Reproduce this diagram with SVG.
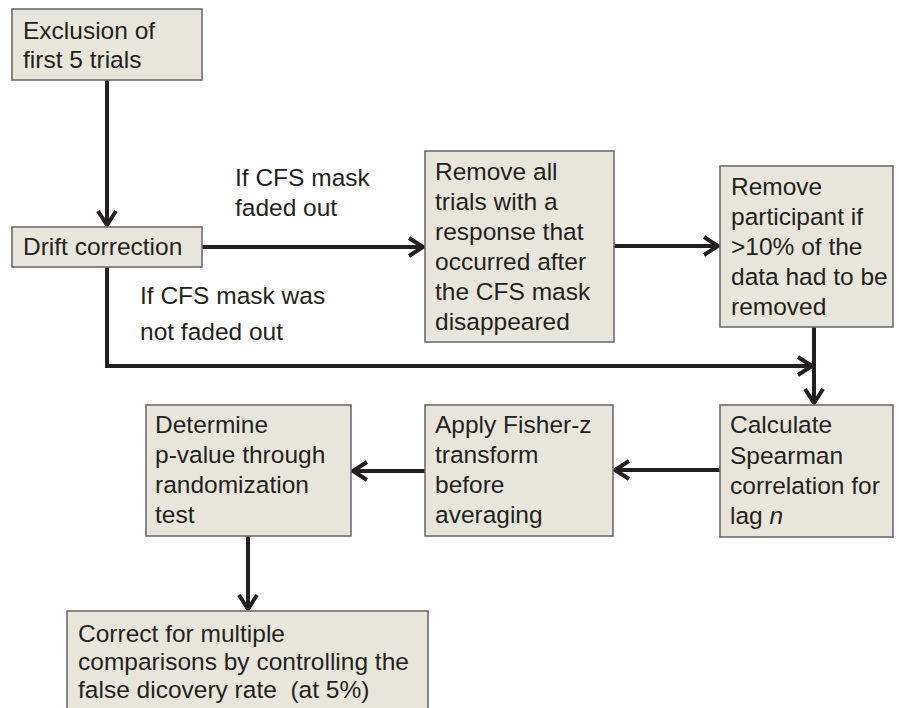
<svg xmlns="http://www.w3.org/2000/svg" width="899" height="708" viewBox="0 0 899 708">
<style>
.box{fill:#e8e6da;stroke:#6d6d6d;stroke-width:1.6}
text{font-family:"Liberation Sans",Arial,sans-serif;font-size:24.5px;fill:#231f20}
.ln{fill:none;stroke:#231f20;stroke-width:4}
</style>
<defs>
<marker id="ah" markerUnits="userSpaceOnUse" markerWidth="22" markerHeight="22" viewBox="0 0 22 22" refX="18" refY="11" orient="auto">
<path d="M4,2 L18,11 L4,20" fill="none" stroke="#231f20" stroke-width="4"/>
</marker>
</defs>
<rect width="899" height="708" fill="#ffffff"/>
<g id="connectors">
<path class="ln" d="M107,80 V225" marker-end="url(#ah)"/>
<path class="ln" d="M202,247 H423" marker-end="url(#ah)"/>
<path class="ln" d="M614,246 H718" marker-end="url(#ah)"/>
<path class="ln" d="M107,267 V366 H812"/>
<path class="ln" d="M800,366 H812" marker-end="url(#ah)"/>
<path class="ln" d="M814,327 V403" marker-end="url(#ah)"/>
<path class="ln" d="M720,470 H615" marker-end="url(#ah)"/>
<path class="ln" d="M425,471 H353" marker-end="url(#ah)"/>
<path class="ln" d="M248,536 V609" marker-end="url(#ah)"/>
<text x="235" y="186">If CFS mask</text>
<text x="235" y="216">faded out</text>
<text x="140" y="304">If CFS mask was</text>
<text x="140" y="340">not faded out</text>
</g>
<g id="exclusion">
<rect class="box" x="12" y="9" width="190" height="71"/>
<text x="23" y="39">Exclusion of</text>
<text x="23" y="68">first 5 trials</text>
</g>
<g id="drift">
<rect class="box" x="12" y="227" width="190" height="40"/>
<text x="23" y="255">Drift correction</text>
</g>
<g id="remove-trials">
<rect class="box" x="425" y="151" width="189" height="191"/>
<text x="435" y="180">Remove all</text>
<text x="435" y="210">trials with a</text>
<text x="435" y="240">response that</text>
<text x="435" y="270">occurred after</text>
<text x="435" y="300">the CFS mask</text>
<text x="435" y="330">disappeared</text>
</g>
<g id="remove-participant">
<rect class="box" x="720" y="166" width="173" height="161"/>
<text x="731" y="195">Remove</text>
<text x="731" y="225">participant if</text>
<text x="731" y="255">&gt;10% of the</text>
<text x="731" y="285">data had to be</text>
<text x="731" y="315">removed</text>
</g>
<g id="spearman">
<rect class="box" x="720" y="405" width="173" height="132"/>
<text x="730" y="433">Calculate</text>
<text x="730" y="464">Spearman</text>
<text x="730" y="494">correlation for</text>
<text x="730" y="524">lag <tspan font-style="italic">n</tspan></text>
</g>
<g id="fisher">
<rect class="box" x="425" y="405" width="188" height="131"/>
<text x="435" y="433">Apply Fisher-z</text>
<text x="435" y="463">transform</text>
<text x="435" y="493">before</text>
<text x="435" y="523">averaging</text>
</g>
<g id="pvalue">
<rect class="box" x="146" y="405" width="205" height="131"/>
<text x="155" y="433">Determine</text>
<text x="155" y="463">p-value through</text>
<text x="155" y="493">randomization</text>
<text x="155" y="523">test</text>
</g>
<g id="fdr">
<rect class="box" x="67" y="611" width="361" height="110"/>
<text x="78" y="642">Correct for multiple</text>
<text x="78" y="670">comparisons by controlling the</text>
<text x="78" y="698" xml:space="preserve" style="white-space:pre">false dicovery rate  (at 5%)</text>
</g>
</svg>
